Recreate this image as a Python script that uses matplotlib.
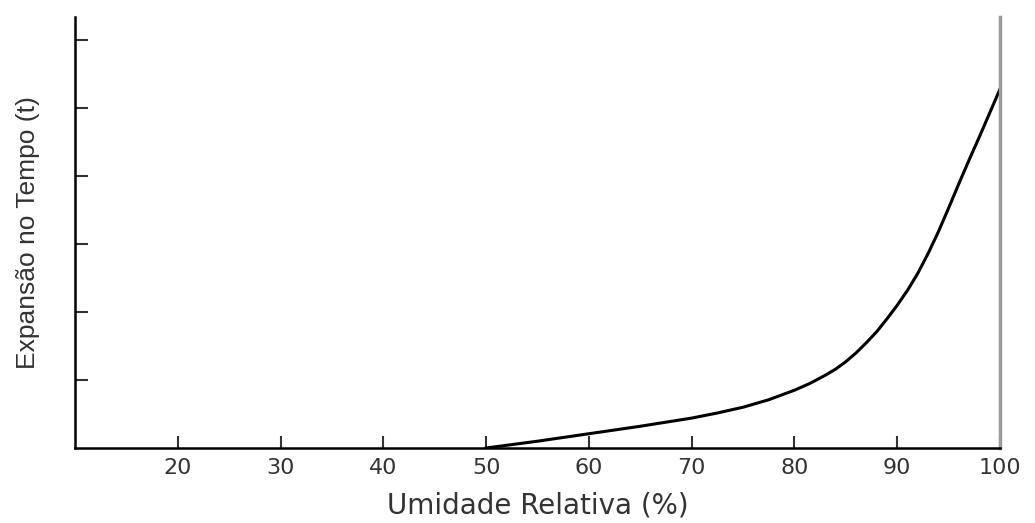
import matplotlib
import matplotlib.pyplot as plt

matplotlib.use('Agg')

# umidade relativa (%) x expansão
umidade = [50, 52.5, 55, 57.5, 60, 62.5, 65, 67.5, 70, 72.5, 75, 77.5, 80, 81.5, 83, 84,
           85, 86, 87, 88, 89, 90, 91, 92, 93, 94, 95, 96, 97, 98, 99, 100]
expansao = [0.0, 0.05, 0.10, 0.155, 0.21, 0.265, 0.32, 0.38, 0.44, 0.515, 0.60, 0.71, 0.85, 0.95,
            1.07, 1.16, 1.27, 1.40, 1.55, 1.71, 1.90, 2.10, 2.32, 2.57, 2.86, 3.18, 3.53, 3.89,
            4.24, 4.58, 4.93, 5.28]

xticks = [20, 30, 40, 50, 60, 70, 80, 90, 100]
yticks = [1, 2, 3, 4, 5, 6]

fig = plt.figure(figsize=(10.35, 5.23), dpi=100)
ax = fig.add_axes([0.0725, 0.1434, 0.8937, 0.8241])

ax.plot(umidade, expansao, color='black', linewidth=2.2, solid_joinstyle='round')

ax.set_xlim(10, 100)
ax.set_ylim(0, 6.34)
ax.set_xticks(xticks)
ax.set_yticks(yticks)
ax.set_yticklabels([])
ax.tick_params(axis='both', direction='in', length=9, width=1.5, color='#333333')
ax.tick_params(axis='x', labelsize=16, pad=7, labelcolor='#333333')

ax.spines['top'].set_visible(False)
ax.spines['left'].set_linewidth(1.8)
ax.spines['bottom'].set_linewidth(1.8)
ax.spines['right'].set_color('#9a9a9a')
ax.spines['right'].set_linewidth(2.5)

ax.set_xlabel('Umidade Relativa (%)', fontsize=20, color='#333333', labelpad=10)
ax.set_ylabel('Expansão no Tempo (t)', fontsize=19, color='#333333', labelpad=22,
              family=['Liberation Sans', 'DejaVu Sans'])

plt.savefig('out.png', dpi=100)
plt.close()
